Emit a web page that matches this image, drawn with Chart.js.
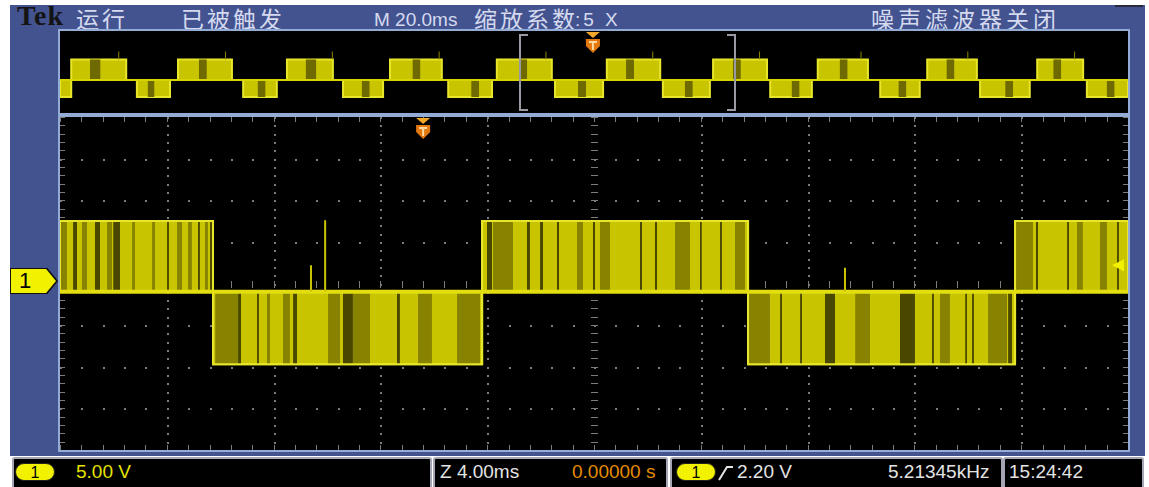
<!DOCTYPE html>
<html>
<head>
<meta charset="utf-8">
<title>Tek</title>
<script src="https://cdn.jsdelivr.net/npm/chart.js@4.4.1/dist/chart.umd.min.js"></script>
<style>
  html, body { margin: 0; padding: 0; background: #fff; }
  body { position: relative; width: 1149px; height: 487px; overflow: hidden; }
  .abs { position: absolute; }
  #frame { left: 10px; top: 5px; width: 1135px; height: 451px; background: #43538f; }
  .screen { background: #000; border: 2px solid #93acd6; box-sizing: border-box; }
  .hdr { top: 6px; color: #d5daf0; font-family: "Noto Sans CJK SC", sans-serif; font-size: 23px; line-height: 24px; white-space: nowrap; letter-spacing: 3px; }
  .lat { font-family: "Liberation Sans", Arial, sans-serif; font-size: 19px; letter-spacing: 0; top: 8px; }
  .sbox { top: 457px; height: 34px; background: #000; border: 2px solid #a4a6b4; border-radius: 3px; box-sizing: border-box; }
  .stxt { top: 462px; font-family: "Liberation Sans", Arial, sans-serif; font-size: 19px; line-height: 20px; white-space: nowrap; }
  .badge { top: 463px; height: 18px; background: #f2f200; border: 1px solid #222; border-radius: 9px; box-sizing: border-box;
           font-family: "Liberation Sans", Arial, sans-serif; font-size: 16px; line-height: 17px; text-align: center; color: #000; }
</style>
</head>
<body>
<div id="frame" class="abs"></div>
<div class="abs" style="left:1115px;top:5px;width:28px;height:2px;background:#2a2a3a"></div>

<div class="abs hdr" style="left:17px;top:2px;font-family:'Liberation Serif',serif;font-weight:bold;font-size:28px;line-height:28px;color:#141414;letter-spacing:1px">Tek</div>
<div class="abs hdr" style="left:76px">运行</div>
<div class="abs hdr" style="left:181px">已被触发</div>
<div class="abs hdr lat" style="left:374px">M 20.0ms</div>
<div class="abs hdr" style="left:474px">缩放系数</div>
<div class="abs hdr lat" style="left:575px;letter-spacing:3px">:5 X</div>
<div class="abs hdr" style="left:871px;letter-spacing:4px">噪声滤波器关闭</div>

<div class="abs screen" style="left:58px;top:29px;width:1072px;height:86px"></div>
<div class="abs screen" style="left:58px;top:115px;width:1072px;height:337px"></div>
<canvas id="overview" class="abs" width="1068" height="82" style="left:60px;top:31px"></canvas>
<canvas id="main" class="abs" width="1068" height="333" style="left:60px;top:117px"></canvas>

<!-- channel 1 ground marker -->
<div class="abs" style="left:10px;top:268px;width:48px;height:26px;background:#111;clip-path:polygon(0 0,78% 0,100% 50%,78% 100%,0 100%)"></div>
<div class="abs" style="left:11px;top:269px;width:45px;height:24px;background:#f2f200;clip-path:polygon(0 0,78% 0,100% 50%,78% 100%,0 100%)"></div>
<div class="abs" style="left:19px;top:269px;font:22px 'Liberation Sans',Arial,sans-serif;line-height:24px;color:#000">1</div>

<!-- status bar -->
<div class="abs sbox" style="left:12px;width:420px"></div>
<div class="abs sbox" style="left:433px;width:235px"></div>
<div class="abs sbox" style="left:670px;width:333px"></div>
<div class="abs sbox" style="left:1003px;width:141px"></div>
<div class="abs badge" style="left:15px;width:40px">1</div>
<div class="abs stxt" style="left:76px;color:#e6e200">5.00 V</div>
<div class="abs stxt" style="left:440px;color:#e4e4e4">Z 4.00ms</div>
<div class="abs stxt" style="left:572px;color:#e58c00">0.00000 s</div>
<div class="abs badge" style="left:676px;width:40px">1</div>
<svg class="abs" style="left:718px;top:464px" width="16" height="18"><path d="M1 16 L9 3 L15 3" stroke="#e4e4e4" stroke-width="2" fill="none"/></svg>
<div class="abs stxt" style="left:737px;color:#e4e4e4">2.20 V</div>
<div class="abs stxt" style="left:888px;color:#e4e4e4">5.21345kHz</div>
<div class="abs stxt" style="left:1009px;color:#e4e4e4">15:24:42</div>

<script>
// ---- main window: 4 ms/div, 5 V/div, 10 x 8 divisions ----
const msPerDiv = 4;
const vPerDiv = 5;
const mainHigh = [[-20, -14.27], [-4.19, 5.77], [15.77, 20]];   // ms
const mainLow = [[-14.27, -4.19], [5.77, 15.77]];
const mainHighV = 7.5;
const mainLowV = -9.7;
const mainZeroV = -1.0;

// darker PWM bands inside the blocks (ms)
const oliveBands = [
  [-20.0, -19.74], [-19.18, -18.99], [-18.24, -18.05], [-17.30, -17.19], [-16.55, -16.44],
  [-15.62, -15.43], [-15.21, -15.06], [-14.57, -14.46],
  [-14.19, -13.33], [-12.25, -12.13], [-11.65, -11.39], [-9.96, -9.51], [-9.03, -8.39],
  [-6.59, -6.07], [-5.13, -4.27],
  [-3.78, -3.03], [-0.64, -0.41], [0.22, 0.60], [3.03, 3.60], [5.28, 5.66],
  [5.77, 6.59], [9.78, 10.34], [12.96, 13.33], [14.76, 15.47],
  [15.77, 16.44], [18.09, 18.31], [18.95, 19.21]
];
const darkBands = [
  [-19.51, -19.36], [-18.69, -18.50], [-18.01, -17.75], [-15.99, -15.92], [-14.83, -14.76], [-14.38, -14.27],
  [-13.33, -13.22], [-12.62, -12.55], [-11.27, -11.12], [-9.40, -9.03], [-7.38, -7.27],
  [-4.01, -3.82], [-2.51, -2.40], [-2.02, -1.91], [-1.39, -1.31], [-0.04, 0.04],
  [1.72, 1.80], [2.28, 2.36], [3.97, 4.04], [4.72, 4.79],
  [6.97, 7.04], [7.72, 7.79], [8.65, 9.03], [11.46, 12.02], [12.66, 12.73], [13.90, 13.97],
  [14.16, 14.23], [15.51, 15.66],
  [16.55, 16.63], [17.72, 17.79], [19.59, 19.66]
];
const mainSpikes = [[-10.6, 2.2], [-10.07, 7.6], [9.4, 1.9]];   // [ms, V peak]
const trigLevelV = 2.2;
const trigMarkMain = -6.4;

// ---- overview record: 20 ms/div ----
const ovHigh = [[-97.9, -87.6], [-77.9, -67.8], [-57.5, -48.9], [-38.2, -28.5], [-18.2, -7.9],
                [2.4, 12.4], [22.3, 32.4], [41.9, 51.3], [62.4, 71.7], [83.0, 91.6]];
const ovLow = [[-100, -97.9], [-85.6, -79.4], [-65.7, -59.4], [-47.0, -39.5], [-27.3, -19.1],
               [-7.3, 1.7], [12.9, 21.7], [33.0, 40.8], [53.6, 61.0], [72.3, 81.6], [92.3, 100]];
const ovHighV = 6.1;
const ovLowV = -12.2;
const ovZeroV = -3.9;
const ovDarkBands = [[-94.4, -92.4], [-83.6, -82.3], [-74.0, -72.5], [-63.0, -61.5], [-54.0, -52.0],
                     [-43.5, -42.0], [-34.0, -32.5], [-23.0, -21.5], [-14.0, -12.5], [-3.0, -1.5],
                     [6.0, 7.5], [17.0, 18.5], [26.0, 27.5], [37.0, 38.5], [46.0, 47.5], [57.0, 58.5],
                     [66.0, 67.5], [77.0, 78.5], [86.0, 87.5], [96.0, 97.5]];
const ovSpikes = [[-89.0, 10.0], [-69.0, 10.0], [-49.0, 10.0], [-29.0, 10.0], [-9.0, 10.0],
                  [11.0, 10.0], [31.0, 10.0], [50.0, 10.0], [70.0, 10.0], [90.0, 10.0]];
const zoomWindow = [-13.9, 26.4];
const trigMarkOv = -0.2;

const YEL_FILL = '#c9c400';
const YEL_EDGE = '#e8e62a';
const OLIVE = '#878200';
const DARK = '#4a4700';

function levelAt(t, high, low, hv, lv, zv) {
  for (const s of high) if (t >= s[0] && t <= s[1]) return hv;
  for (const s of low) if (t >= s[0] && t <= s[1]) return lv;
  return zv;
}

function envelope(high, low, hv, lv, zv) {
  const spans = high.map(s => [s[0], s[1], hv]).concat(low.map(s => [s[0], s[1], lv]));
  spans.sort((a, b) => a[0] - b[0]);
  const pts = [];
  spans.forEach(s => {
    pts.push({x: s[0], y: zv}, {x: s[0], y: s[2]}, {x: s[1], y: s[2]}, {x: s[1], y: zv});
  });
  return pts;
}

function bands(list, high, low, hv, lv, zv) {
  const pts = [];
  list.forEach(b => {
    const lvl = levelAt((b[0] + b[1]) / 2, high, low, hv, lv, zv);
    pts.push({x: b[0], y: lvl}, {x: b[1], y: lvl}, {x: b[1], y: null});
  });
  return pts;
}

function spikes(list, zv) {
  const pts = [];
  list.forEach(s => pts.push({x: s[0], y: zv}, {x: s[0], y: s[1]}, {x: s[0], y: null}));
  return pts;
}

function trigMark(ctx, px, top) {
  ctx.fillStyle = '#f2a62a';
  ctx.beginPath();
  ctx.moveTo(px - 7, top); ctx.lineTo(px + 7, top); ctx.lineTo(px, top + 6); ctx.closePath(); ctx.fill();
  ctx.fillStyle = '#e2780e';
  ctx.beginPath();
  ctx.moveTo(px - 7, top + 7); ctx.lineTo(px + 7, top + 7); ctx.lineTo(px + 7, top + 14);
  ctx.lineTo(px, top + 21); ctx.lineTo(px - 7, top + 14); ctx.closePath(); ctx.fill();
  ctx.fillStyle = '#ffd9a0';
  ctx.fillRect(px - 4, top + 9, 8, 2);
  ctx.fillRect(px - 1, top + 9, 2, 9);
}

const graticule = {
  id: 'graticule',
  beforeDatasetsDraw(chart) {
    const {ctx, chartArea: a, scales: {x, y}} = chart;
    ctx.save();
    ctx.fillStyle = '#7c7c7c';
    for (let i = -4; i <= 4; i++) {
      const px = Math.round(x.getPixelForValue(i * msPerDiv));
      for (let k = -20; k <= 20; k++) {
        const py = Math.round(y.getPixelForValue(k * vPerDiv / 5));
        if (i === 0) ctx.fillRect(px - 3, py, 7, 1);
        else ctx.fillRect(px, py, 2, 2);
      }
    }
    for (let j = -3; j <= 3; j++) {
      const py = Math.round(y.getPixelForValue(j * vPerDiv));
      for (let k = -25; k <= 25; k++) {
        const px = Math.round(x.getPixelForValue(k * msPerDiv / 5));
        if (j === 0) ctx.fillRect(px, py - 3, 1, 7);
        else ctx.fillRect(px, py, 2, 2);
      }
    }
    // edge ticks
    for (let k = -25; k <= 25; k++) {
      const px = Math.round(x.getPixelForValue(k * msPerDiv / 5));
      ctx.fillRect(px, a.top, 1, 5);
      ctx.fillRect(px, a.bottom - 5, 1, 5);
    }
    for (let k = -20; k <= 20; k++) {
      const py = Math.round(y.getPixelForValue(k * vPerDiv / 5));
      ctx.fillRect(a.left, py, 5, 1);
      ctx.fillRect(a.right - 5, py, 5, 1);
    }
    ctx.restore();
  },
  afterDatasetsDraw(chart) {
    const {ctx, chartArea: a, scales: {x, y}} = chart;
    ctx.save();
    const py = y.getPixelForValue(trigLevelV);
    ctx.fillStyle = '#f2f200';
    ctx.beginPath();
    ctx.moveTo(a.right - 16, py); ctx.lineTo(a.right - 4, py - 6); ctx.lineTo(a.right - 4, py + 6);
    ctx.closePath(); ctx.fill();
    trigMark(ctx, x.getPixelForValue(trigMarkMain), a.top + 1);
    ctx.restore();
  }
};

const ovDecor = {
  id: 'ovDecor',
  afterDatasetsDraw(chart) {
    const {ctx, chartArea: a, scales: {x}} = chart;
    ctx.save();
    ctx.strokeStyle = '#9a9aa4';
    ctx.lineWidth = 2;
    const l = Math.round(x.getPixelForValue(zoomWindow[0]));
    const r = Math.round(x.getPixelForValue(zoomWindow[1]));
    ctx.beginPath();
    ctx.moveTo(l + 8, a.top + 4); ctx.lineTo(l, a.top + 4); ctx.lineTo(l, a.bottom - 3); ctx.lineTo(l + 8, a.bottom - 3);
    ctx.moveTo(r - 8, a.top + 4); ctx.lineTo(r, a.top + 4); ctx.lineTo(r, a.bottom - 3); ctx.lineTo(r - 8, a.bottom - 3);
    ctx.stroke();
    trigMark(ctx, x.getPixelForValue(trigMarkOv), a.top + 1);
    ctx.restore();
  }
};

function scopeChart(id, xRange, sets, extra) {
  return new Chart(document.getElementById(id), {
    type: 'line',
    data: {datasets: sets},
    options: {
      animation: false,
      responsive: false,
      events: [],
      layout: {padding: 0},
      elements: {point: {radius: 0}, line: {tension: 0}},
      plugins: {legend: {display: false}, tooltip: {enabled: false}},
      scales: {
        x: {type: 'linear', min: xRange[0], max: xRange[1], display: false},
        y: {type: 'linear', min: -20, max: 20, display: false}
      }
    },
    plugins: extra
  });
}

const mainEnv = envelope(mainHigh, mainLow, mainHighV, mainLowV, mainZeroV);
scopeChart('main', [-20, 20], [
  {data: mainEnv, order: 6, fill: {value: mainZeroV}, backgroundColor: YEL_FILL, borderColor: YEL_EDGE, borderWidth: 2},
  {data: bands(oliveBands, mainHigh, mainLow, mainHighV, mainLowV, mainZeroV), order: 5,
   fill: {value: mainZeroV}, backgroundColor: OLIVE, borderColor: 'rgba(0,0,0,0)', borderWidth: 0},
  {data: bands(darkBands, mainHigh, mainLow, mainHighV, mainLowV, mainZeroV), order: 4,
   fill: {value: mainZeroV}, backgroundColor: DARK, borderColor: 'rgba(0,0,0,0)', borderWidth: 0},
  {data: mainEnv, order: 3, fill: false, borderColor: YEL_EDGE, borderWidth: 2},
  {data: [{x: -20, y: mainZeroV}, {x: 20, y: mainZeroV}], order: 2, fill: false, borderColor: '#e2de10', borderWidth: 4},
  {data: spikes(mainSpikes, mainZeroV), order: 1, fill: false, borderColor: '#c9c400', borderWidth: 2}
], [graticule]);

const ovEnv = envelope(ovHigh, ovLow, ovHighV, ovLowV, ovZeroV);
scopeChart('overview', [-100, 100], [
  {data: ovEnv, order: 5, fill: {value: ovZeroV}, backgroundColor: YEL_FILL, borderColor: YEL_EDGE, borderWidth: 2},
  {data: bands(ovDarkBands, ovHigh, ovLow, ovHighV, ovLowV, ovZeroV), order: 4,
   fill: {value: ovZeroV}, backgroundColor: '#6e6a00', borderColor: 'rgba(0,0,0,0)', borderWidth: 0},
  {data: [{x: -100, y: ovZeroV}, {x: 100, y: ovZeroV}], order: 2, fill: false, borderColor: '#d8d400', borderWidth: 2},
  {data: spikes(ovSpikes, ovHighV), order: 1, fill: false, borderColor: '#8a8600', borderWidth: 1}
], [ovDecor]);
</script>
</body>
</html>
